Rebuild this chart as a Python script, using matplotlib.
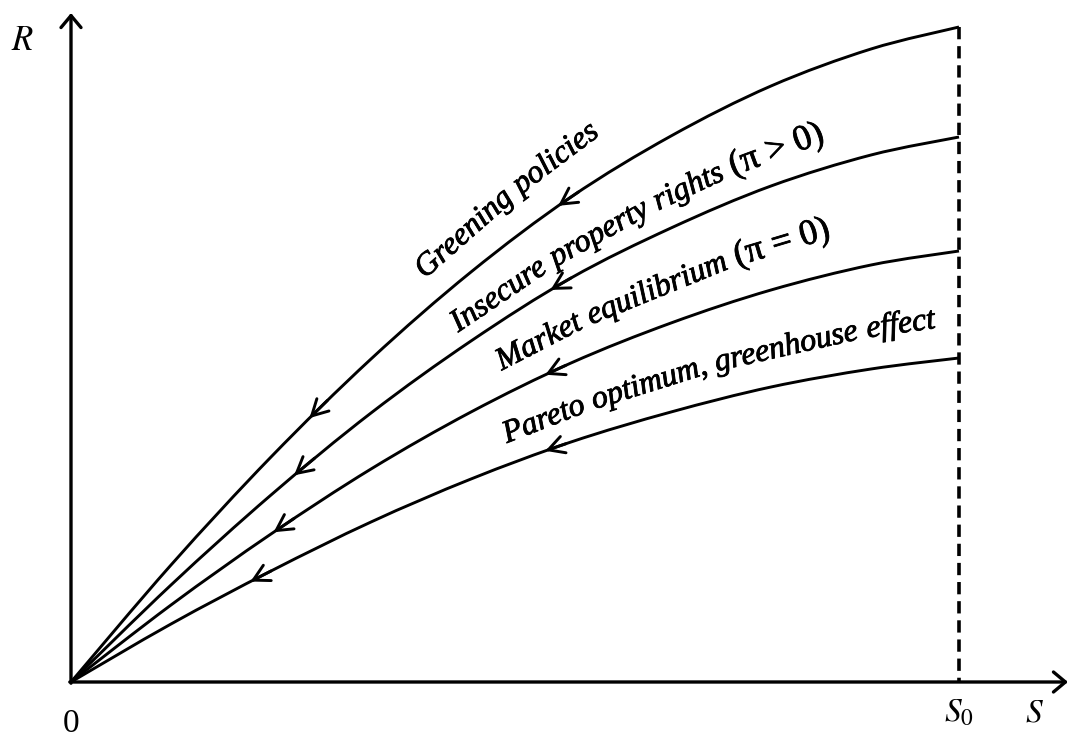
import numpy as np
import matplotlib
matplotlib.use('Agg')
import matplotlib.pyplot as plt
from matplotlib import patheffects
from matplotlib.path import Path
from matplotlib.patches import PathPatch

plt.rcParams['font.family'] = 'serif'
plt.rcParams['font.serif'] = ['Liberation Serif', 'DejaVu Serif']
plt.rcParams['mathtext.fontset'] = 'stix'

# stock S and extraction R (S0 is the initial stock)
S0 = 8.88
S = [0, 1, 2, 3, 4, 5, 6, 7, 8, S0]
R_greening = [0, 1.17, 2.25, 3.23, 4.10, 4.85, 5.46, 5.96, 6.33, 6.55]
R_insecure = [0, 0.97, 1.87, 2.69, 3.41, 4.04, 4.54, 4.96, 5.27, 5.45]
R_market = [0, 0.77, 1.48, 2.13, 2.70, 3.19, 3.59, 3.92, 4.17, 4.31]
R_pareto = [0, 0.58, 1.11, 1.60, 2.03, 2.40, 2.70, 2.95, 3.13, 3.24]
curves = [R_greening, R_insecure, R_market, R_pareto]

# where the direction arrows sit on each curve
arrow_S = [[2.36, 4.86], [2.22, 4.79], [2.02, 4.74], [1.79, 4.74]]

# labels: italic text, upright condition, guide scale, start
labels = [
    ('Greening policies', None, 1.085, 3.52),
    ('Insecure property rights', '(π > 0)', 0.875, 3.86),
    ('Market equilibrium', '(π = 0)', 0.717, 4.29),
    ('Pareto optimum, greenhouse effect', None, 0.545, 4.34),
]


def spline_pts(x, y):
    p = np.column_stack([x, y]).astype(float)
    n = len(p)
    segs = []
    for i in range(n - 1):
        p0 = p[max(i - 1, 0)]
        p3 = p[min(i + 2, n - 1)]
        c1 = p[i] + (p[i + 1] - p0) / 6
        c2 = p[i + 1] - (p3 - p[i]) / 6
        segs.append((p[i], c1, c2, p[i + 1]))
    return segs


def smooth_path(x, y):
    segs = spline_pts(x, y)
    verts = [segs[0][0]]
    codes = [Path.MOVETO]
    for a, c1, c2, b in segs:
        verts += [c1, c2, b]
        codes += [Path.CURVE4] * 3
    return Path(verts, codes)


def dense(x, y, n=40):
    out = []
    t = np.linspace(0, 1, n)[:, None]
    for k, (a, c1, c2, b) in enumerate(spline_pts(x, y)):
        pts = ((1 - t) ** 3 * a + 3 * (1 - t) ** 2 * t * c1
               + 3 * (1 - t) * t ** 2 * c2 + t ** 3 * b)
        out.append(pts if k == 0 else pts[1:])
    return np.vstack(out)


fig = plt.figure(figsize=(10.7, 7.37), dpi=100)
ax = fig.add_axes([0, 0, 1, 1])
ax.set_xlim(-0.71, 9.99)
ax.set_ylim(-0.55, 6.82)
ax.axis('off')

# axes with open arrow heads
axis_arrow = dict(arrowstyle='->,head_length=0.43,head_width=0.36', lw=2.4,
                  color='black', shrinkA=0, shrinkB=0, mutation_scale=20)
ax.annotate('', xy=(9.97, 0), xytext=(-0.012, 0), arrowprops=axis_arrow)
ax.annotate('', xy=(0, 6.69), xytext=(0, -0.012), arrowprops=axis_arrow)

ax.plot([S0, S0], [R_greening[-1], 0], ls=(0, (3.4, 1.9)), lw=2.6, color='black')

curve_arrow = dict(arrowstyle='->,head_length=0.57,head_width=0.31', lw=2.1,
                   color='black', shrinkA=0, shrinkB=0, mutation_scale=20)
for R, pos in zip(curves, arrow_S):
    ax.add_patch(PathPatch(smooth_path(S, R), fill=False, lw=2.1,
                           edgecolor='black'))
    pts = dense(S, R)
    for s in pos:
        i = np.searchsorted(pts[:, 0], s)
        j = np.searchsorted(pts[:, 0], s + 0.2)
        ax.annotate('', xy=pts[i], xytext=pts[j], arrowprops=curve_arrow)

# axis labels
ax.text(-0.485, 6.32, '$R$', fontsize=25, ha='center', va='baseline')
ax.text(0.005, -0.50, '0', fontsize=24, ha='center', va='baseline')
ax.text(S0, -0.40, '$S_0$', fontsize=24, ha='center', va='baseline')
ax.text(9.63, -0.40, '$S$', fontsize=24, ha='center', va='baseline')

# curve labels bent along a guide that follows the curves
renderer = fig.canvas.get_renderer()


def text_width(s, **kw):
    t = ax.text(0, 0, s, **kw)
    w = t.get_window_extent(renderer).width
    t.remove()
    return w


heavy = [patheffects.withStroke(linewidth=0.6, foreground='black')]
ital = dict(fontsize=23, style='italic')
upright = dict(fontsize=26)
space_w = text_width('a a', **ital) - text_width('aa', **ital)

for text, cond, k, s_start in labels:
    g = ax.transData.transform(dense(S, k * np.array(R_greening)))
    arc = np.concatenate([[0], np.cumsum(np.hypot(*np.diff(g, axis=0).T))])

    def at(a):
        return np.array([np.interp(a, arc, g[:, 0]), np.interp(a, arc, g[:, 1])])

    pos = arc[np.searchsorted(ax.transData.inverted().transform(g)[:, 0], s_start)]
    pieces = [(w, ital) for w in text.split(' ')]
    if cond:
        pieces.append((cond, upright))
    for word, kw in pieces:
        w = text_width(word, **kw)
        p1, p2 = at(pos), at(pos + w)
        ang = np.degrees(np.arctan2(p2[1] - p1[1], p2[0] - p1[0]))
        x, y = ax.transData.inverted().transform(p1)
        ax.text(x, y, word, rotation=ang, rotation_mode='anchor',
                ha='left', va='baseline', path_effects=heavy, **kw)
        pos += w + space_w

fig.savefig('out.png', dpi=100)
